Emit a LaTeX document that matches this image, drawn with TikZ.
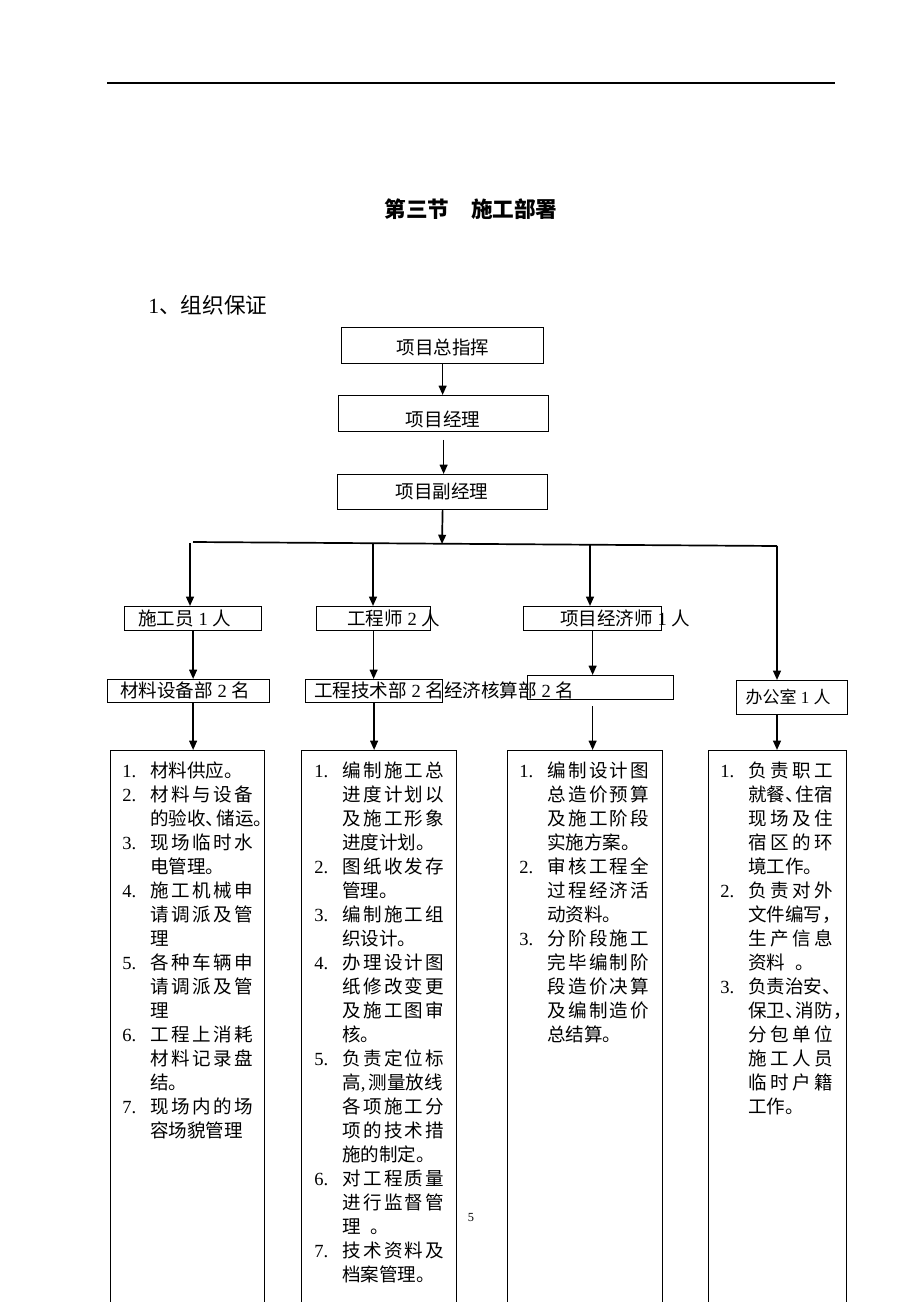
\documentclass[tikz,border=0pt]{standalone}
\usepackage{fontspec}
\setmainfont{Liberation Serif}
\newfontfamily\cjk{Noto Sans CJK SC}
\usetikzlibrary{arrows.meta}
\newlength\px \setlength\px{0.647pt}
\newcommand\zh[1]{{\cjk #1}}
\makeatletter
\newcommand\jl[2]{\hbox to #1\px{\cjk\def\my@sep{}\@tfor\my@ch:=#2\do{\my@sep\my@ch\def\my@sep{\hfill}}}}
\makeatother
\newcommand\li[2]{\hbox{\hbox to 28\px{#1\hss}#2}}
\newcommand\lsp{\baselineskip=24\px\lineskiplimit=-100pt\lineskip=0pt\relax}
\begin{document}
\begin{tikzpicture}[x=\px,y=-\px,
  bx/.style 2 args={draw, line width=0.8pt, anchor=north west, inner sep=0pt, minimum width=#1\px, minimum height=#2\px},
  arr/.style={line width=1.1pt, -{Triangle[length=6pt,width=5pt]}},
  ln/.style={line width=1.1pt},
  txt/.style={anchor=base west, inner sep=0pt, font=\fontsize{12}{14}\selectfont},
  ctxt/.style={anchor=base, inner sep=0pt, font=\fontsize{12}{14}\selectfont}]
\useasboundingbox (0,0) rectangle (920,1302);
\fill[white] (0,0) rectangle (920,1302);
\clip (0,0) rectangle (920,1302);

% header rule
\draw[line width=0.7pt] (107,83) -- (835,83);

\node[ctxt, font=\fontsize{14}{16}\selectfont\cjk\bfseries] (title) at (471,217) {第三节　施工部署};
\node[txt, font=\fontsize{14}{16}\selectfont] (sub) at (148,313) {1\zh{、组织保证}};

% top chain
\node[bx={202}{36}] (b1) at (341,327) {};
\node[ctxt] (t1) at (443,354) {\zh{项目总指挥}};
\node[bx={210}{36}] (b2) at (338,395) {};
\node[ctxt] (t2) at (443,426) {\zh{项目经理}};
\node[bx={210}{35}] (b3) at (337,474) {};
\node[ctxt] (t3) at (442,498) {\zh{项目副经理}};

\draw[arr] (b1.south) -- (b1.south |- b2.north);
\draw[arr, shorten <=5pt] (b2.south) -- (b2.south |- b3.north);

% bus
\coordinate (busL) at (193,542);
\coordinate (busR) at (777,546);
\coordinate (busM) at (442,544);
\draw[ln] (busL) -- (busR);
\draw[arr] (b3.south) -- (busM);

\coordinate (d1) at (190,543);
\coordinate (d2) at (373,543);
\coordinate (d3) at (590,545);
\coordinate (d4) at (777,546);

% row 2
\node[bx={137}{24}] (s1) at (124,606) {};
\node[bx={114}{24}] (s2) at (316,606) {};
\node[bx={138}{24}] (s3) at (523,606) {};
\node[txt] (ts1) at (138,625) {\zh{施工员} 1 \zh{人}};
\node[txt] (ts2) at (347,625) {\zh{工程师} 2 \zh{人}};
\node[txt] (ts3) at (560,625) {\zh{项目经济师} 1 \zh{人}};

% row 3
\node[bx={162}{23}] (m1) at (107,679) {};
\node[bx={137}{23}] (m2) at (305,679) {};
\node[bx={146}{24}] (m3) at (527,675) {};
\node[bx={111}{34}] (m4) at (736,680) {};
\node[txt] (tm1) at (120,697) {\zh{材料设备部} 2 \zh{名}};
\node[txt] (tm2) at (314,697) {\zh{工程技术部} 2 \zh{名经济核算部} 2 \zh{名}};
\node[ctxt, font=\fontsize{11}{13}\selectfont] (tm4) at (788,703) {\zh{办公室} 1 \zh{人}};

\draw[arr] (d1) -- (d1 |- s1.north);
\draw[arr] (d2) -- (d2 |- s2.north);
\draw[arr] (d3) -- (d3 |- s3.north);
\draw[arr] (d4) -- (d4 |- m4.north);

\draw[arr] (s1.south) -- (s1.south |- m1.north);
\draw[arr] (s2.south) -- (s2.south |- m2.north);
\draw[arr] (s3.south) -- (s3.south |- m3.north);

% row 4
\node[bx={154}{580}] (LA) at (110,750) {};
\node[bx={155}{580}] (LB) at (301,750) {};
\node[bx={155}{580}] (LC) at (507,750) {};
\node[bx={138}{580}] (LD) at (708,750) {};

\draw[arr] (s1.south |- m1.south) -- (s1.south |- LA.north);
\draw[arr] (m2.south) -- (m2.south |- LB.north);
\draw[arr, shorten <=4pt] (s3.south |- m3.south) -- (s3.south |- LC.north);
\draw[arr] (d4 |- m4.south) -- (d4 |- LD.north);

\node[txt] (tA) at (122,777) {\vtop{\lsp
\li{1.}{\zh{材料供应。}}
\li{2.}{\jl{103}{材料与设备}}
\li{}{\zh{的验收、\kern-8\px 储运。}}
\li{3.}{\jl{103}{现场临时水}}
\li{}{\zh{电管理。}}
\li{4.}{\jl{103}{施工机械申}}
\li{}{\jl{103}{请调派及管}}
\li{}{\zh{理}}
\li{5.}{\jl{103}{各种车辆申}}
\li{}{\jl{103}{请调派及管}}
\li{}{\zh{理}}
\li{6.}{\jl{103}{工程上消耗}}
\li{}{\jl{103}{材料记录盘}}
\li{}{\zh{结。}}
\li{7.}{\jl{103}{现场内的场}}
\li{}{\zh{容场貌管理}}
}};

\node[txt] (tB) at (314,777) {\vtop{\lsp
\li{1.}{\jl{102}{编制施工总}}
\li{}{\jl{102}{进度计划以}}
\li{}{\jl{102}{及施工形象}}
\li{}{\zh{进度计划。}}
\li{2.}{\jl{102}{图纸收发存}}
\li{}{\zh{管理。}}
\li{3.}{\jl{102}{编制施工组}}
\li{}{\zh{织设计。}}
\li{4.}{\jl{102}{办理设计图}}
\li{}{\jl{102}{纸修改变更}}
\li{}{\jl{102}{及施工图审}}
\li{}{\zh{核。}}
\li{5.}{\jl{102}{负责定位标}}
\li{}{\zh{高},\kern3\px\zh{测量放线}}
\li{}{\jl{102}{各项施工分}}
\li{}{\jl{102}{项的技术措}}
\li{}{\zh{施的制定。}}
\li{6.}{\jl{102}{对工程质量}}
\li{}{\jl{102}{进行监督管}}
\li{}{\zh{理\kern10\px 。}}
\li{7.}{\jl{102}{技术资料及}}
\li{}{\zh{档案管理。}}
}};

\node[txt] (tC) at (519,777) {\vtop{\lsp
\li{1.}{\jl{102}{编制设计图}}
\li{}{\jl{102}{总造价预算}}
\li{}{\jl{102}{及施工阶段}}
\li{}{\zh{实施方案。}}
\li{2.}{\jl{102}{审核工程全}}
\li{}{\jl{102}{过程经济活}}
\li{}{\zh{动资料。}}
\li{3.}{\jl{102}{分阶段施工}}
\li{}{\jl{102}{完毕编制阶}}
\li{}{\jl{102}{段造价决算}}
\li{}{\jl{102}{及编制造价}}
\li{}{\zh{总结算。}}
}};

\node[txt] (tD) at (720,777) {\vtop{\lsp
\li{1.}{\jl{85}{负责职工}}
\li{}{\zh{就餐、\kern-8\px 住宿}}
\li{}{\jl{85}{现场及住}}
\li{}{\jl{85}{宿区的环}}
\li{}{\zh{境工作。}}
\li{2.}{\jl{85}{负责对外}}
\li{}{\zh{文件编写，}}
\li{}{\jl{85}{生产信息}}
\li{}{\zh{资料\kern10\px 。}}
\li{3.}{\zh{负责治安、}}
\li{}{\zh{保卫、\kern-8\px 消防，}}
\li{}{\jl{85}{分包单位}}
\li{}{\jl{85}{施工人员}}
\li{}{\jl{85}{临时户籍}}
\li{}{\zh{工作。}}
}};

\node[ctxt, font=\fontsize{8}{9}\selectfont] (pg) at (471,1221) {5};
\end{tikzpicture}
\end{document}
